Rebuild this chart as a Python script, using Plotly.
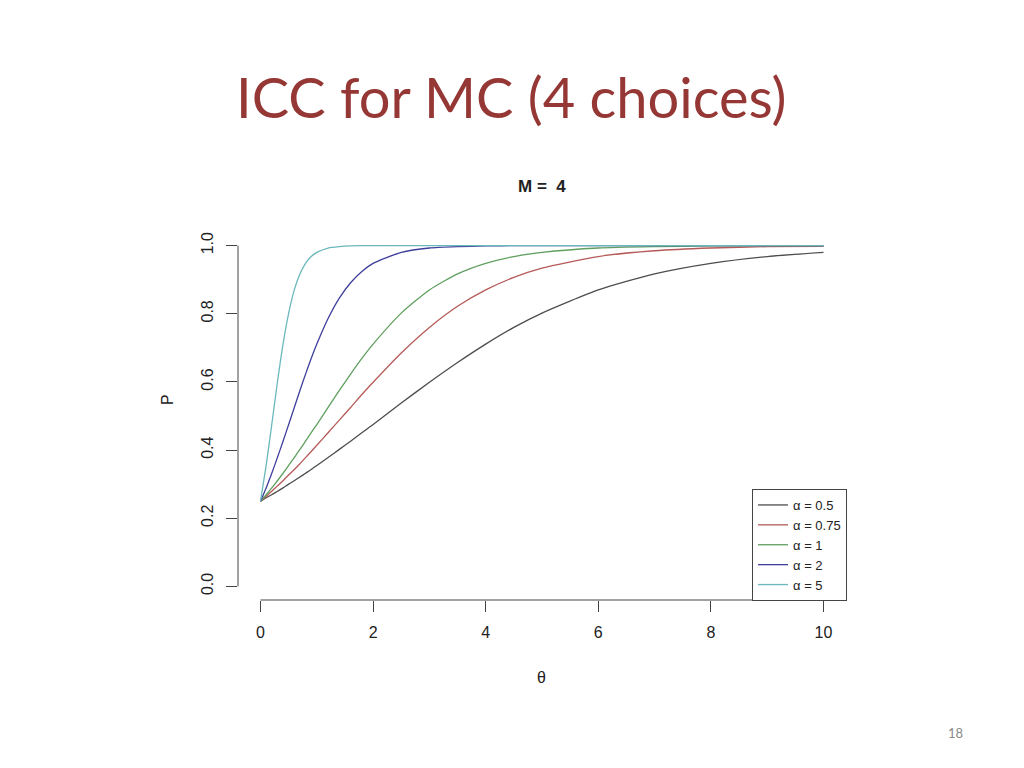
import plotly.graph_objects as go

# theta grid and curve values (P at each theta)
theta = [0, 0.1, 0.2, 0.3, 0.4, 0.5, 0.6, 0.7, 0.8, 0.9, 1.0, 1.2, 1.4, 1.6, 1.8,
         2.0, 2.5, 3.0, 3.5, 4.0, 4.5, 5.0, 6.0, 7.0, 8.0, 9.0, 10.0]

p_a05 = [0.250, 0.260, 0.269, 0.279, 0.289, 0.300, 0.310, 0.321, 0.332, 0.343, 0.355,
         0.378, 0.402, 0.426, 0.451, 0.475, 0.538, 0.599, 0.657, 0.711, 0.760, 0.802,
         0.870, 0.917, 0.948, 0.968, 0.980]
p_a075 = [0.250, 0.264, 0.279, 0.295, 0.310, 0.327, 0.343, 0.360, 0.378, 0.396, 0.414,
          0.451, 0.488, 0.525, 0.563, 0.599, 0.685, 0.760, 0.822, 0.870, 0.907, 0.934,
          0.968, 0.985, 0.993, 0.997, 0.998]
p_a1 = [0.250, 0.269, 0.289, 0.310, 0.332, 0.355, 0.378, 0.402, 0.426, 0.451, 0.475,
        0.525, 0.575, 0.623, 0.669, 0.711, 0.802, 0.870, 0.917, 0.948, 0.968, 0.980,
        0.993, 0.997, 0.999, 1.000, 1.000]
p_a2 = [0.250, 0.289, 0.332, 0.378, 0.426, 0.475, 0.525, 0.575, 0.623, 0.669, 0.711,
        0.786, 0.846, 0.891, 0.924, 0.948, 0.980, 0.993, 0.997, 0.999, 1.000, 1.000,
        1.000, 1.000, 1.000, 1.000, 1.000]
p_a5 = [0.250, 0.355, 0.475, 0.599, 0.711, 0.802, 0.870, 0.917, 0.948, 0.968, 0.980,
        0.993, 0.997, 0.999, 1.000, 1.000, 1.000, 1.000, 1.000, 1.000, 1.000, 1.000,
        1.000, 1.000, 1.000, 1.000, 1.000]

series_names = ["α = 0.5", "α = 0.75", "α = 1", "α = 2", "α = 5"]
series_values = [p_a05, p_a075, p_a1, p_a2, p_a5]
series_colors = ["#4d4d4d", "#b55a58", "#5f9f5f", "#3f3f9c", "#6bb8bc"]

x_ticks = [0, 2, 4, 6, 8, 10]
y_ticks = [0.0, 0.2, 0.4, 0.6, 0.8, 1.0]
y_tick_text = ["0.0", "0.2", "0.4", "0.6", "0.8", "1.0"]

fig = go.Figure()
for name, vals, col in zip(series_names, series_values, series_colors):
    fig.add_trace(go.Scatter(x=theta, y=vals, mode="lines", name=name,
                             line=dict(color=col, width=1.3, shape="spline", smoothing=0.6)))

axis_col = "#444444"
W, H = 1024, 768
OFF = 8  # page body margin


def px(p):
    return (p - OFF) / W


def py(p):
    return 1 - (p - OFF) / H


fig.update_layout(
    width=W, height=H,
    margin=dict(l=0, r=0, t=0, b=0),
    paper_bgcolor="white", plot_bgcolor="white",
    font=dict(family="Liberation Sans, Arial, sans-serif", color="#222222"),
    xaxis=dict(domain=[px(238), px(846)], range=[-0.4, 10.4], tickvals=x_ticks,
               ticks="outside", ticklen=11, tickcolor=axis_col, tickwidth=1,
               showline=False, showgrid=False, zeroline=False,
               tickfont=dict(size=16, color="#222222"), ticklabelstandoff=7),
    yaxis=dict(domain=[py(600), py(232)], range=[-0.04, 1.04], tickvals=y_ticks,
               ticktext=y_tick_text, tickangle=-90,
               ticks="outside", ticklen=11, tickcolor=axis_col, tickwidth=1,
               showline=False, showgrid=False, zeroline=False,
               tickfont=dict(size=16, color="#222222"), ticklabelstandoff=7),
    showlegend=True,
    legend=dict(x=px(847), y=py(601), xanchor="right", yanchor="bottom",
                bordercolor=axis_col, borderwidth=1, bgcolor="white",
                font=dict(size=13, color="#222222", family="Liberation Sans, Arial, sans-serif"),
                tracegroupgap=0, itemwidth=30),
)

# R-style detached axis lines spanning the tick range
fig.add_shape(type="line", xref="x", yref="y domain", x0=0, x1=10, y0=0, y1=0,
              line=dict(color=axis_col, width=1))
fig.add_shape(type="line", xref="x domain", yref="y", x0=0, x1=0, y0=0, y1=1,
              line=dict(color=axis_col, width=1))


def note(text, x, y, size, color="#222222", family=None, angle=0):
    f = dict(size=size, color=color)
    if family:
        f["family"] = family
    fig.add_annotation(text=text, x=px(x), y=py(y), xref="paper", yref="paper",
                       xanchor="center", yanchor="middle", showarrow=False,
                       textangle=angle, font=f)


note("ICC for MC (4 choices)", 511, 97, 56, color="#953735", family="Lato, sans-serif")
note("<b>M =  4</b>", 542, 187, 17)
note("θ", 541, 677, 16)
note("P", 167, 400, 16, angle=-90)
note("18", 955, 733, 13, color="#8a8a8a", family="Lato, sans-serif")

fig.write_html("out.html")
